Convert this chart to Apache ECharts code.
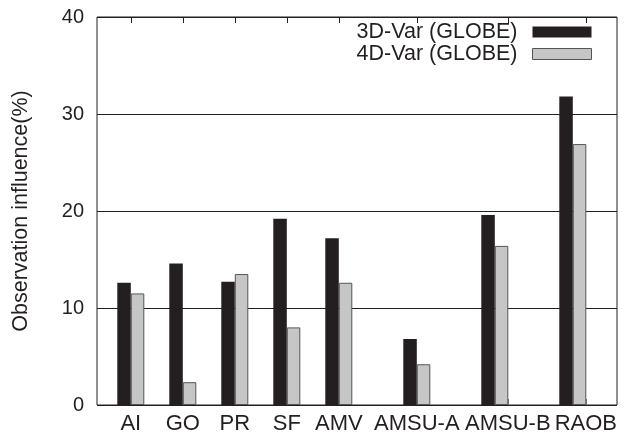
<!DOCTYPE html>
<html>
<head>
<meta charset="utf-8">
<script src="https://cdn.jsdelivr.net/npm/echarts@6/dist/echarts.min.js"></script>
<style>
html,body{margin:0;padding:0;background:#fff;}
#c{width:624px;height:438px;}
</style>
</head>
<body>
<div id="c"></div>
<script>
var categories = ['AI', 'GO', 'PR', 'SF', 'AMV', 'AMSU-A', 'AMSU-B', 'RAOB'];
var var3d = [12.6, 14.6, 12.7, 19.2, 17.2, 6.8, 19.6, 31.8];
var var4d = [11.5, 2.35, 13.5, 8.0, 12.6, 4.2, 16.4, 26.9];
var barSlots = [0, 2, 4, 6, 8, 11, 14, 17];
var tickSlots = [0, 2, 4, 6, 8, 11, 14.5, 17.5];
var yTicks = [0, 10, 20, 30, 40];
var seriesNames = ['3D-Var (GLOBE)', '4D-Var (GLOBE)'];

var FONT = 'Liberation Sans';
var INK = '#231f20';

function labelFor(v) {
  for (var i = 0; i < tickSlots.length; i++) {
    if (Math.abs(tickSlots[i] - v) < 1e-6) return categories[i];
  }
  return '';
}

var chart = echarts.init(document.getElementById('c'), null, {renderer: 'canvas'});
chart.setOption({
  animation: false,
  backgroundColor: '#fff',
  textStyle: {fontFamily: FONT},
  grid: {
    left: 97, top: 17, width: 520, height: 388,
    show: true, borderColor: INK, borderWidth: 1, backgroundColor: 'transparent'
  },
  legend: {
    orient: 'vertical',
    right: 32, top: 21,
    padding: 0,
    align: 'right',
    itemWidth: 59, itemHeight: 11, itemGap: 0,
    textStyle: {fontFamily: FONT, fontSize: 21.5, color: INK, padding: [0, 10, 0, 0]},
    data: [
      {name: seriesNames[0], icon: 'rect', itemStyle: {color: INK, borderWidth: 0}},
      {name: seriesNames[1], icon: 'rect', itemStyle: {color: '#c6c6c6', borderColor: '#555', borderWidth: 1}}
    ]
  },
  xAxis: [{
    type: 'value',
    min: -1.3, max: 18.7,
    position: 'bottom',
    splitLine: {show: false},
    axisLine: {show: false},
    axisTick: {show: true, inside: true, length: 6, customValues: tickSlots, lineStyle: {color: '#777'}},
    axisLabel: {
      show: true, customValues: tickSlots, formatter: labelFor,
      fontFamily: FONT, fontSize: 22, color: INK, margin: 8
    }
  }, {
    type: 'value',
    min: -1.3, max: 18.7,
    position: 'top',
    splitLine: {show: false},
    axisLine: {show: false},
    axisTick: {show: true, inside: true, length: 6, customValues: tickSlots, lineStyle: {color: INK}},
    axisLabel: {show: false}
  }],
  yAxis: {
    type: 'value',
    min: 0, max: 40, interval: 10,
    name: 'Observation influence(%)',
    nameLocation: 'middle',
    nameRotate: 90,
    nameGap: 65,
    nameTextStyle: {fontFamily: FONT, fontSize: 21.5, color: INK},
    axisLine: {show: false},
    axisTick: {show: false},
    splitLine: {show: true, lineStyle: {color: INK, width: 1}},
    axisLabel: {
      fontFamily: FONT, fontSize: 20, color: INK, margin: 13,
      customValues: yTicks
    }
  },
  series: [{
    name: seriesNames[0],
    type: 'bar',
    xAxisIndex: 0,
    barWidth: 13.5,
    barGap: '0%',
    itemStyle: {color: INK},
    data: barSlots.map(function (s, i) { return [s, var3d[i]]; })
  }, {
    name: seriesNames[1],
    type: 'bar',
    xAxisIndex: 0,
    barWidth: 13.5,
    barGap: '0%',
    itemStyle: {color: '#c6c6c6', borderColor: '#555', borderWidth: 1},
    data: barSlots.map(function (s, i) { return [s, var4d[i]]; })
  }]
});
</script>
</body>
</html>
